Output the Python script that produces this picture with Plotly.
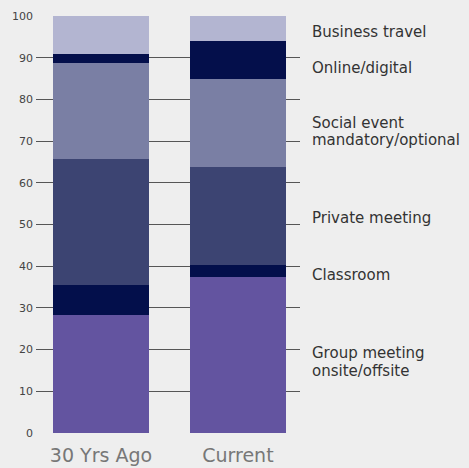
import plotly.graph_objects as go

# data (percent of total)
periods = ["30 Yrs Ago", "Current"]
period_pos = [0, 1]
group_meeting = [28.2, 37.3]
classroom = [7.2, 3.1]
private_meeting = [30.2, 23.3]
social_event = [23.2, 21.1]
online_digital = [2.0, 9.1]
business_travel = [9.2, 6.2]

series_names = ["Group meeting", "Classroom", "Private meeting",
                "Social event", "Online/digital", "Business travel"]
series_values = [group_meeting, classroom, private_meeting,
                 social_event, online_digital, business_travel]
series_colors = ["#6354a0", "#030f4b", "#3c4472", "#7a7fa4", "#040f4b", "#b3b5d1"]

# right-hand labels, one annotation per text line (y in data units)
label_lines = [
    ("Business travel", 96.2),
    ("Online/digital", 87.5),
    ("Social event", 74.3),
    ("mandatory/optional", 70.3),
    ("Private meeting", 51.6),
    ("Classroom", 37.9),
    ("Group meeting", 19.1),
    ("onsite/offsite", 14.9),
]

fig = go.Figure()
for name, vals, color in zip(series_names, series_values, series_colors):
    fig.add_trace(go.Bar(
        x=period_pos, y=vals, name=name, width=0.7,
        marker=dict(color=color, line=dict(width=0)),
    ))

for text, ly in label_lines:
    fig.add_annotation(
        x=1, xref="paper", y=ly, yref="y", text=text,
        showarrow=False, xanchor="left", yanchor="middle", xshift=10,
        font=dict(family="DejaVu Sans", size=15, color="#333333"),
    )

fig.update_layout(
    barmode="stack",
    width=469, height=468,
    margin=dict(l=36, r=169, t=16, b=35, autoexpand=False),
    paper_bgcolor="#eeeeee", plot_bgcolor="#eeeeee",
    showlegend=False,
    font=dict(family="DejaVu Sans", color="#555555"),
)
fig.update_xaxes(
    range=[-0.474, 1.453], tickvals=period_pos, ticktext=periods,
    showgrid=False, zeroline=False, showline=False, automargin=False,
    tickfont=dict(size=19, color="#777777"), ticks="", ticklabelstandoff=9,
)
fig.update_yaxes(
    range=[0, 100], dtick=10, showgrid=True, gridcolor="#555555", gridwidth=1,
    zeroline=False, showline=False, ticks="", automargin=False,
    tickfont=dict(size=11, color="#444444"), ticklabelstandoff=2,
)

# page body has a default 8px margin; remove it so the figure sits at 0,0
fig.write_html(
    "out.html",
    config={"displayModeBar": False},
    post_script="document.body.style.margin='0';document.body.style.background='#eeeeee';",
)
